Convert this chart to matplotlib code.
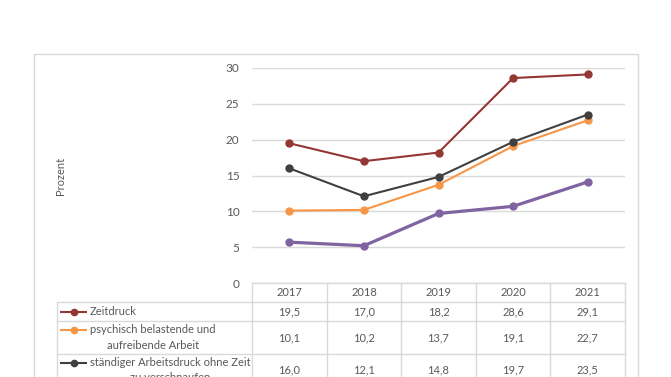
import matplotlib
matplotlib.use("Agg")
import matplotlib.pyplot as plt
import matplotlib.transforms as mtransforms

plt.rcParams['font.family'] = ['Lato', 'DejaVu Sans']

# ---------- Data ----------
years = ["2017", "2018", "2019", "2020", "2021"]
zeitdruck = [19.5, 17.0, 18.2, 28.6, 29.1]
psychisch = [10.1, 10.2, 13.7, 19.1, 22.7]
arbeitsdruck = [16.0, 12.1, 14.8, 19.7, 23.5]
vierte_reihe = [5.7, 5.2, 9.7, 10.7, 14.1]

labels = [
    "Zeitdruck",
    "psychisch belastende und\naufreibende Arbeit",
    "ständiger Arbeitsdruck ohne Zeit\nzu verschnaufen",
]

RED = "#943634"
ORANGE = "#F79646"
DARK = "#404040"
PURPLE = "#8064A2"
GRID = "#D9D9D9"
TXT = "#595959"

W, H = 671, 377
fig = plt.figure(figsize=(W / 100, H / 100), dpi=100, facecolor="white")

# overlay in pixel coords for frame and table lines
ov = fig.add_axes([0, 0, 1, 1], zorder=0)
ov.set_xlim(0, W)
ov.set_ylim(H, 0)
ov.axis("off")

# chart frame
ov.plot([34, 34, 638, 638], [H + 5, 54, 54, H + 5], color=GRID, lw=1)

# plot area
x0, x1, ytop, ybot = 252, 625, 68, 283
ax = fig.add_axes([x0 / W, 1 - ybot / H, (x1 - x0) / W, (ybot - ytop) / H], zorder=2)
ax.set_facecolor("none")
ax.set_xlim(-0.5, len(years) - 0.5)
ax.set_ylim(0, 30)
ax.set_yticks([0, 5, 10, 15, 20, 25, 30])
ax.grid(axis="y", color=GRID, lw=1)
ax.set_axisbelow(True)
for s in ax.spines.values():
    s.set_visible(False)
ax.tick_params(axis="y", length=0, labelsize=8.5, labelcolor=TXT, pad=9)
ax.tick_params(axis="x", length=0, labelbottom=False)
ax.set_ylabel("Prozent", fontsize=8, color=TXT, labelpad=0)
ax.yaxis.set_label_coords((66 - x0) / (x1 - x0), 0.5)

xs = range(len(years))
series = [
    (zeitdruck, RED, 1.5),
    (psychisch, ORANGE, 1.5),
    (arbeitsdruck, DARK, 1.5),
    (vierte_reihe, PURPLE, 2.3),
]
for vals, col, lw in series:
    ax.plot(xs, vals, color=col, lw=lw, marker="o", ms=5, clip_on=False)

# ---------- Data table ----------
col_edges = [x0 + i * (x1 - x0) / len(years) for i in range(len(years) + 1)]
row_edges = [283, 302, 321, 354, 390]

# header row
ov.plot([x0, x1], [283, 283], color=GRID, lw=1)
for r in row_edges[1:]:
    ov.plot([57, x1], [r, r], color=GRID, lw=1)
for i, cx in enumerate(col_edges):
    ov.plot([cx, cx], [283, H + 5], color=GRID, lw=1)
ov.plot([57, 57], [302, H + 5], color=GRID, lw=1)

bt = mtransforms.blended_transform_factory(ax.transData, ov.transData)
for i, y in enumerate(years):
    ov.text(i, 293, y, transform=bt, ha="center", va="center", fontsize=8, color=TXT)

rows = [zeitdruck, psychisch, arbeitsdruck]
row_cols = [RED, ORANGE, DARK]
row_y = [311.5, 337.5, 370]
for vals, col, lab, yc in zip(rows, row_cols, labels, row_y):
    for i, v in enumerate(vals):
        ov.text(i, yc, f"{v:.1f}".replace(".", ","), transform=bt,
                ha="center", va="center", fontsize=8, color=TXT)

# legend keys + row labels (first line starts right after the key)
label_y = [311.5, 337.5, 370]
for lab, col, yc in zip(labels, row_cols, label_y):
    nlines = lab.count("\n") + 1
    ymark = yc - (nlines - 1) * 7.5
    ov.plot([60, 87], [ymark, ymark], color=col, lw=1.5, solid_capstyle="butt")
    ov.plot([73.5], [ymark], marker="o", color=col, ms=4.5)
    ov.text(90, yc, lab, ha="left", va="center", fontsize=8, color=TXT,
            linespacing=1.45, multialignment="center")

fig.savefig("out.png", dpi=100, facecolor="white")
plt.close(fig)
